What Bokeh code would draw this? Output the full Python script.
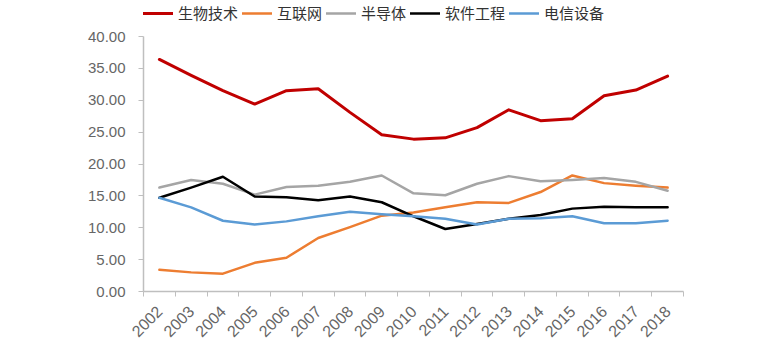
import math
from bokeh.plotting import figure
from bokeh.models import Range1d, FixedTicker, PrintfTickFormatter, Legend, LegendItem
from bokeh.embed import file_html
from bokeh.resources import INLINE

years = ["2002", "2003", "2004", "2005", "2006", "2007", "2008", "2009", "2010",
         "2011", "2012", "2013", "2014", "2015", "2016", "2017", "2018"]
series_names = ["生物技术", "互联网", "半导体", "软件工程", "电信设备"]
biotech = [36.4, 33.9, 31.5, 29.4, 31.5, 31.8, 28.1, 24.6, 23.9, 24.1, 25.7, 28.5, 26.8, 27.1, 30.7, 31.6, 33.8]
internet = [3.4, 3.0, 2.8, 4.5, 5.3, 8.4, 10.1, 11.9, 12.4, 13.2, 14.0, 13.9, 15.6, 18.2, 17.0, 16.6, 16.3]
semicon = [16.3, 17.5, 16.9, 15.2, 16.4, 16.6, 17.2, 18.2, 15.4, 15.1, 16.9, 18.1, 17.3, 17.5, 17.8, 17.2, 15.8]
software = [14.7, 16.3, 18.0, 14.9, 14.8, 14.3, 14.9, 14.0, 11.8, 9.8, 10.6, 11.4, 12.0, 13.0, 13.3, 13.2, 13.2]
telecom = [14.7, 13.2, 11.1, 10.5, 11.0, 11.8, 12.5, 12.1, 11.8, 11.4, 10.5, 11.4, 11.5, 11.8, 10.7, 10.7, 11.1]
y_ticks = [0, 5, 10, 15, 20, 25, 30, 35, 40]

colors = ["#C00000", "#ED7D31", "#A5A5A5", "#000000", "#5B9BD5"]
widths = [3, 2.5, 2.5, 2.5, 2.5]

xs = [int(y) for y in years]
y_max = y_ticks[-1]
# frame runs to the top of the page; extra headroom above the axis holds the legend
y_top = y_max * 291.0 / 255.0

p = figure(width=766, height=346, output_backend="svg", toolbar_location=None,
           x_range=Range1d(xs[0] - 0.5, xs[-1] + 0.5), y_range=Range1d(0, y_top),
           min_border_left=143, min_border_right=83, min_border_top=0, min_border_bottom=55)
p.outline_line_color = None
p.xgrid.grid_line_color = None
p.ygrid.grid_line_color = None
p.background_fill_color = "white"
p.border_fill_color = "white"

items = []
for name, data, c, w in zip(series_names, [biotech, internet, semicon, software, telecom], colors, widths):
    r = p.line(xs, data, line_color=c, line_width=w, line_join="round", line_cap="round")
    items.append(LegendItem(label=name, renderers=[r]))

# x axis
p.xaxis.ticker = FixedTicker(ticks=xs, minor_ticks=[x - 0.5 for x in xs] + [xs[-1] + 0.5])
p.xaxis.major_label_overrides = {x: y for x, y in zip(xs, years)}
p.xaxis.major_tick_out = 0
p.xaxis.major_tick_in = 0
p.xaxis.minor_tick_out = 5
p.xaxis.minor_tick_in = 0
p.xaxis.minor_tick_line_color = "#BFBFBF"
p.xaxis.major_label_orientation = math.pi / 4
p.xaxis.major_label_standoff = 12

# y axis
p.yaxis.ticker = FixedTicker(ticks=y_ticks)
p.yaxis.bounds = (0, y_max)
p.yaxis.formatter = PrintfTickFormatter(format="%.2f")
p.yaxis.major_tick_out = 5
p.yaxis.major_tick_in = 0
p.yaxis.minor_tick_line_color = None
p.yaxis.major_tick_line_color = "#BFBFBF"
p.yaxis.major_label_standoff = 13

for ax in (p.xaxis, p.yaxis):
    ax.axis_line_color = "#BFBFBF"
    ax.axis_line_width = 1.5
    ax.major_label_text_font = "Liberation Sans"
    ax.major_label_text_color = "#666666"
p.yaxis.major_label_text_font_size = "15px"
p.xaxis.major_label_text_font_size = "16px"

legend = Legend(items=items, orientation="horizontal", location=(0, 268),
                glyph_width=30, glyph_height=16, label_height=16, label_standoff=5,
                spacing=4, padding=0, margin=0, border_line_color=None,
                background_fill_alpha=0,
                label_text_font="Noto Sans CJK SC", label_text_font_size="15px",
                label_text_color="#333333")
p.add_layout(legend)

open("out.html", "w").write(file_html(p, INLINE))
